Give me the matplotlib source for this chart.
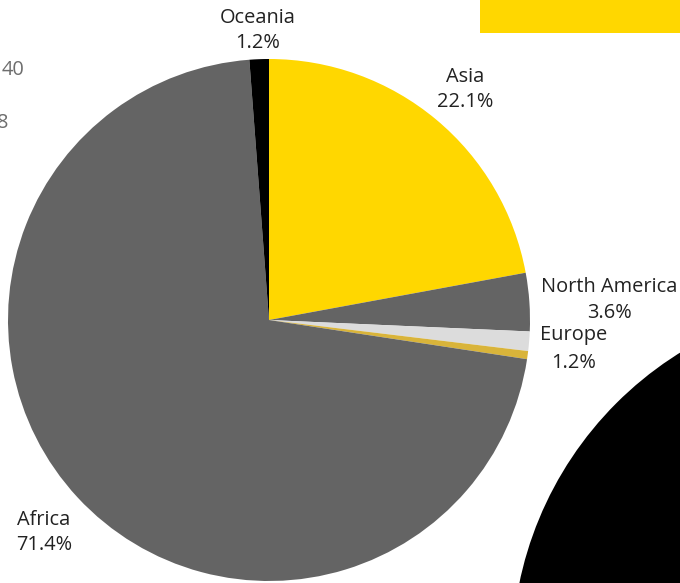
import matplotlib.pyplot as plt
from matplotlib.patches import Rectangle, Circle

plt.rcParams['font.family'] = ['Open Sans', 'DejaVu Sans']

# share of total, clockwise from 12 o'clock
regions = ['Asia', 'North America', 'Europe', 'South America', 'Africa', 'Oceania']
shares = [22.1, 3.6, 1.2, 0.5, 71.4, 1.2]
colors = ['#FFD700', '#646464', '#DCDCDC', '#D9B43A', '#646464', '#000000']
shown = ['Asia', 'North America', 'Europe', 'Africa', 'Oceania']

# label anchors in pixels (name baseline, pct baseline, x centre)
label_pos = {
    'Oceania': (258, 23, 48),
    'Asia': (465, 82, 107),
    'North America': (609, 292, 318),
    'Europe': (574, 340, 368),
    'Africa': (44, 525, 550),
}

W, H = 680, 583
fig = plt.figure(figsize=(W / 100, H / 100), dpi=100)

# background layer in pixel coords
bg = fig.add_axes([0, 0, 1, 1])
bg.set_xlim(0, W)
bg.set_ylim(H, 0)
bg.axis('off')
bg.add_patch(Rectangle((480, 0), 200, 33, color='#FFD700', lw=0))
bg.add_patch(Circle((868, 655), 356, color='#000000', lw=0))
bg.text(25, 75, '40', ha='right', va='baseline', fontsize=14.4, color='#6e6e6e')
bg.text(8, 128, '8', ha='right', va='baseline', fontsize=14.4, color='#6e6e6e')

# pie: centre (269, 320) px, radius 261 px
cx, cy, r = 269, 320, 261
ax = fig.add_axes([(cx - r) / W, (H - cy - r) / H, 2 * r / W, 2 * r / H])
ax.pie(shares, colors=colors, startangle=90, counterclock=False,
       radius=1, wedgeprops=dict(linewidth=0))
ax.set_xlim(-1, 1)
ax.set_ylim(-1, 1)
ax.axis('off')

for name, val in zip(regions, shares):
    if name not in shown:
        continue
    x, y1, y2 = label_pos[name]
    bg.text(x, y1, name, ha='center', va='baseline', fontsize=14.4, color='#222222')
    bg.text(x, y2, f'{val}%', ha='center', va='baseline', fontsize=14.4, color='#222222')

fig.savefig('out.png', dpi=100)
